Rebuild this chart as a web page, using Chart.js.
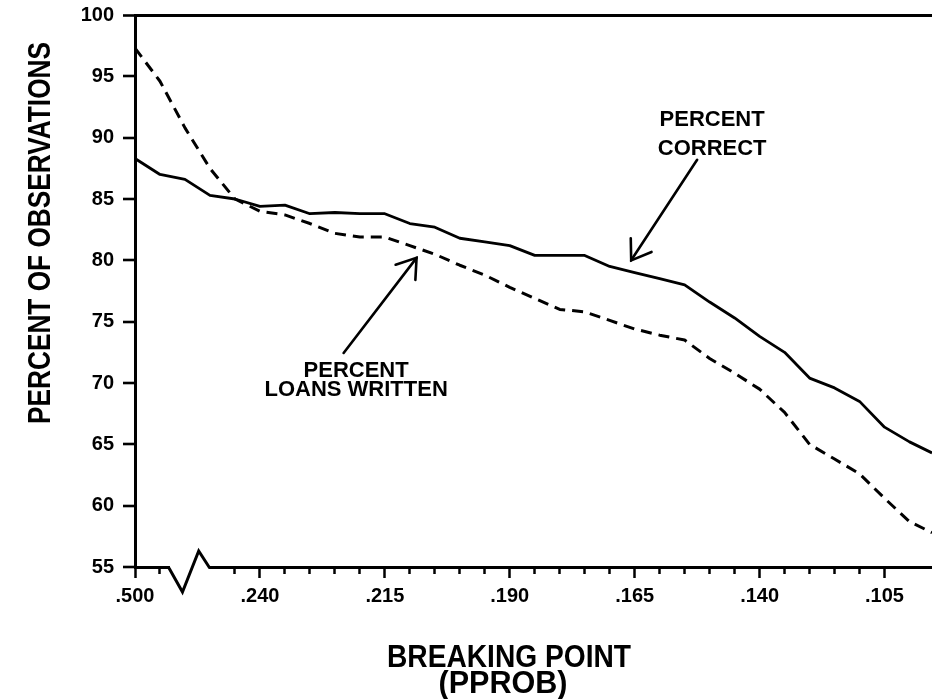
<!DOCTYPE html>
<html>
<head>
<meta charset="utf-8">
<script src="https://cdn.jsdelivr.net/npm/chart.js@4.4.0/dist/chart.umd.min.js"></script>
<style>
html,body{margin:0;padding:0;background:#fff;}
#wrap{width:932px;height:699px;}
</style>
</head>
<body>
<div id="wrap"><canvas id="c" width="932" height="699"></canvas></div>
<script>
// Positions along the (broken) breaking-point axis: one unit = one minor tick (0.005)
const positions = [0,1,2,3,4,5,6,7,8,9,10,11,12,13,14,15,16,17,18,19,20,21,22,23,24,25,26,27,28,29,30,31,31.9];
const xTickLabels = ['.500','.240','.215','.190','.165','.140','.105'];
const yTickValues = [55,60,65,70,75,80,85,90,95,100];
const percentCorrect = [88.3,87.0,86.6,85.3,85.0,84.4,84.5,83.8,83.9,83.8,83.8,83.0,82.7,81.8,81.5,81.2,80.4,80.4,80.4,79.5,79.0,78.5,78.0,76.6,75.3,73.8,72.5,70.4,69.6,68.5,66.4,65.2,64.3];
const percentLoansWritten = [97.3,94.6,90.8,87.5,85.0,84.0,83.7,83.0,82.2,81.9,81.9,81.2,80.5,79.6,78.8,77.8,76.9,76.0,75.8,75.1,74.4,73.9,73.5,72.0,70.8,69.5,67.6,65.0,63.8,62.6,60.6,58.7,57.8];
const seriesNames = ['PERCENT CORRECT','PERCENT LOANS WRITTEN'];

const TICK_FONT = {family:"'Liberation Sans', Arial, sans-serif", weight:'bold', size:20};
const TITLE_FONT = "bold 32px 'Liberation Sans', Arial, sans-serif";
const NOTE_FONT = "bold 22px 'Liberation Sans', Arial, sans-serif";

// annotation anchors in data units (x position, percent)
const notes = [
  {lines:['PERCENT','CORRECT'], x:23.1, ys:[90.95, 88.6], tail:[22.5, 88.2], tip:[19.86, 80.0]},
  {lines:['PERCENT','LOANS WRITTEN'], x:8.85, ys:[70.5, 68.95], tail:[8.35, 72.45], tip:[11.27, 80.2]}
];

function fitText(ctx, text, x, y, width){
  const w = ctx.measureText(text).width;
  ctx.save();
  ctx.translate(x, y);
  ctx.scale(width / w, 1);
  ctx.fillText(text, 0, 0);
  ctx.restore();
}

const extras = {
  id:'extras',
  afterDraw(chart){
    const ctx = chart.ctx, xs = chart.scales.x, ys = chart.scales.y;
    const ca = chart.chartArea;
    ctx.save();
    // axis break on x axis
    const y0 = ca.bottom;
    const bx1 = xs.getPixelForValue(1.4), bx2 = xs.getPixelForValue(1.9), bx3 = xs.getPixelForValue(2.55), bx4 = xs.getPixelForValue(2.95);
    ctx.fillStyle = '#fff';
    ctx.fillRect(bx1, y0 - 3, bx4 - bx1, 7);
    ctx.strokeStyle = '#000';
    ctx.lineWidth = 3;
    ctx.lineJoin = 'miter';
    ctx.beginPath();
    ctx.moveTo(bx1 - 1, y0 + 1);
    ctx.lineTo(bx2, y0 + 25);
    ctx.lineTo(bx3, y0 - 16);
    ctx.lineTo(bx4 + 1, y0 + 1);
    ctx.stroke();

    // annotations
    ctx.fillStyle = '#000';
    ctx.font = NOTE_FONT;
    ctx.textAlign = 'center';
    ctx.textBaseline = 'alphabetic';
    ctx.lineWidth = 2.6;
    ctx.lineCap = 'round';
    notes.forEach(n => {
      const cx = xs.getPixelForValue(n.x);
      n.lines.forEach((t,i) => ctx.fillText(t, cx, ys.getPixelForValue(n.ys[i])));
      const tx = xs.getPixelForValue(n.tail[0]), ty = ys.getPixelForValue(n.tail[1]);
      const px = xs.getPixelForValue(n.tip[0]), py = ys.getPixelForValue(n.tip[1]);
      ctx.beginPath(); ctx.moveTo(tx, ty); ctx.lineTo(px, py); ctx.stroke();
      const ang = Math.atan2(ty - py, tx - px);
      const L = 22, A = 0.6;
      ctx.beginPath();
      ctx.moveTo(px + L*Math.cos(ang + A), py + L*Math.sin(ang + A));
      ctx.lineTo(px, py);
      ctx.lineTo(px + L*Math.cos(ang - A), py + L*Math.sin(ang - A));
      ctx.stroke();
    });

    // axis titles (condensed to the original's narrow lettering)
    ctx.font = TITLE_FONT;
    ctx.textAlign = 'center';
    ctx.textBaseline = 'alphabetic';
    ctx.save();
    ctx.translate(50, 233);
    ctx.rotate(-Math.PI/2);
    fitText(ctx, 'PERCENT OF OBSERVATIONS', 0, 0, 382);
    ctx.restore();
    fitText(ctx, 'BREAKING POINT', 509, 667, 244);
    fitText(ctx, '(PPROB)', 503, 693, 129);
    ctx.restore();
  }
};

const isMajor = v => Math.abs(v % 5) < 1e-9;
const isHiddenTick = v => v === 2 || v === 3 || Math.abs(v - Math.round(v)) > 1e-9;

new Chart(document.getElementById('c'), {
  type:'line',
  data:{
    datasets:[
      {label:seriesNames[0], data:positions.map((x,i)=>({x, y:percentCorrect[i]})), borderColor:'#000', borderWidth:2.8, fill:false},
      {label:seriesNames[1], data:positions.map((x,i)=>({x, y:percentLoansWritten[i]})), borderColor:'#000', borderWidth:3, borderDash:[11,7], fill:false}
    ]
  },
  options:{
    responsive:false,
    animation:false,
    devicePixelRatio:1,
    layout:{padding:{top:15,right:0,left:0,bottom:0}},
    plugins:{legend:{display:false}, tooltip:{enabled:false}},
    elements:{point:{radius:0}, line:{tension:0, borderJoinStyle:'round', borderCapStyle:'butt'}},
    scales:{
      x:{
        type:'linear', min:0, max:positions[positions.length-1],
        afterFit(s){ s.height = 132; s.paddingRight = 0; s.paddingLeft = 0; },
        ticks:{
          stepSize:1, autoSkip:false, maxRotation:0, color:'#000', font:TICK_FONT, padding:6,
          callback:(v)=> isMajor(v) ? xTickLabels[Math.round(v/5)] : ''
        },
        grid:{
          drawOnChartArea:false, tickLength:11, tickWidth:2.5,
          tickColor:(c)=> (c.tick && isHiddenTick(c.tick.value)) ? 'rgba(0,0,0,0)' : '#000',
          tickBorderDash:(c)=> (c.tick && isMajor(c.tick.value)) ? [] : [5,100]
        },
        border:{display:true, color:'#000', width:3}
      },
      y:{
        min:yTickValues[0], max:yTickValues[yTickValues.length-1],
        afterFit(s){ s.width = 135; s.paddingTop = 0; s.paddingBottom = 0; },
        afterBuildTicks(s){ s.ticks = yTickValues.map(v=>({value:v})); },
        ticks:{color:'#000', font:TICK_FONT, padding:9},
        grid:{
          color:(c)=> (c.tick && c.tick.value === 100) ? '#000' : 'rgba(0,0,0,0)',
          lineWidth:(c)=> (c.tick && c.tick.value === 100) ? 3 : 0,
          tickLength:12, tickWidth:2.6, tickColor:'#000'
        },
        border:{display:true, color:'#000', width:3}
      }
    }
  },
  plugins:[extras]
});
</script>
</body>
</html>
